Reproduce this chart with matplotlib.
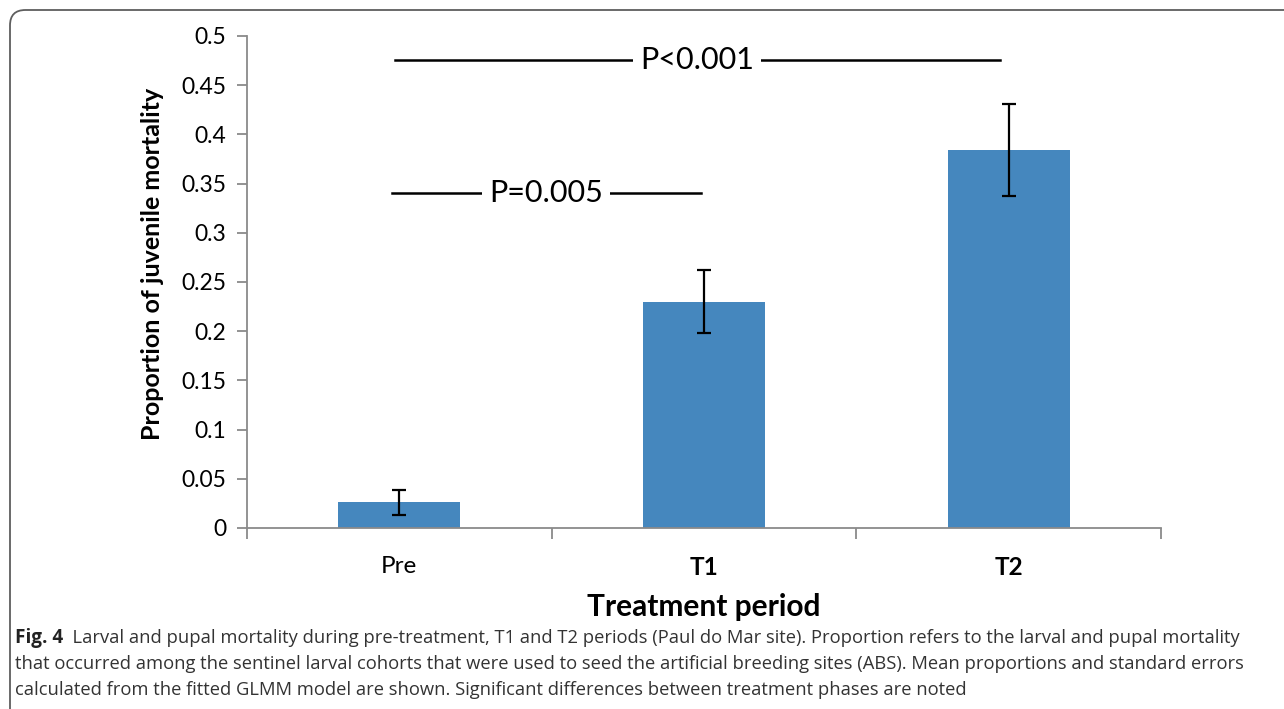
import matplotlib.pyplot as plt
from matplotlib.patches import FancyBboxPatch

# data
periods = ['Pre', 'T1', 'T2']
mortality = [0.026, 0.230, 0.384]
std_err = [0.013, 0.032, 0.047]
y_ticks = [0, 0.05, 0.1, 0.15, 0.2, 0.25, 0.3, 0.35, 0.4, 0.45, 0.5]
y_tick_labels = ['0', '0.05', '0.1', '0.15', '0.2', '0.25', '0.3', '0.35', '0.4', '0.45', '0.5']
comparisons = [  # (from, to, height, label)
    (-0.015, 1.97, 0.476, 'P<0.001'),
    (-0.025, 0.99, 0.340, 'P=0.005'),
]
caption_bold = 'Fig. 4'
caption_lines = [
    'Larval and pupal mortality during pre-treatment, T1 and T2 periods (Paul do Mar site). Proportion refers to the larval and pupal mortality',
    'that occurred among the sentinel larval cohorts that were used to seed the artificial breeding sites (ABS). Mean proportions and standard errors',
    'calculated from the fitted GLMM model are shown. Significant differences between treatment phases are noted',
]

plt.rcParams['font.family'] = ['Lato', 'DejaVu Sans']

fig = plt.figure(figsize=(12.84, 7.09), dpi=100)

# rounded frame round the figure, cut at right and bottom
frame = FancyBboxPatch((10 / 1284, -0.1), 1.2, 1.1 - 10 / 709,
                       boxstyle='round,pad=0,rounding_size=0.012',
                       transform=fig.transFigure, facecolor='none',
                       edgecolor='#5e5e5e', linewidth=1.3, mutation_aspect=1284 / 709)
fig.patches.append(frame)

ax = fig.add_axes([247 / 1284, 1 - 528 / 709, (1161 - 247) / 1284, (528 - 36) / 709])

x = range(len(periods))
ax.bar(x, mortality, width=0.4, color='#4587be', zorder=2)
ax.errorbar(x, mortality, yerr=std_err, fmt='none', ecolor='black',
            elinewidth=1.6, capsize=5, capthick=1.6, zorder=3)

ax.set_xlim(-0.5, 2.5)
ax.set_ylim(0, 0.5)
ax.set_yticks(y_ticks)
ax.set_yticklabels(y_tick_labels, fontsize=16.5)
ax.set_xticks([-0.5, 0.5, 1.5, 2.5])
ax.set_xticklabels([])
ax.set_xticks(list(x), minor=True)
ax.set_xticklabels(periods, minor=True, fontsize=17.5)
for lbl in ax.get_xticklabels(minor=True)[1:]:
    lbl.set_fontweight('bold')
ax.tick_params(axis='x', which='minor', length=0, pad=20)
ax.tick_params(axis='x', which='major', length=8, color='#8a8a8a', width=1.3)
ax.tick_params(axis='y', length=7, color='#8a8a8a', width=1.3, pad=8)

for side in ['top', 'right']:
    ax.spines[side].set_visible(False)
for side in ['left', 'bottom']:
    ax.spines[side].set_color('#8a8a8a')
    ax.spines[side].set_linewidth(1.3)

ax.set_xlabel('Treatment period', fontsize=21.5, fontweight='bold', labelpad=10)
ax.set_ylabel('Proportion of juvenile mortality', fontsize=18, fontweight='bold', labelpad=12)
ax.yaxis.label.set_y(0.537)

for x0, x1, h, label in comparisons:
    ax.plot([x0, x1], [h, h], color='black', linewidth=1.8, zorder=4, clip_on=False)
    ax.text((x0 + x1) / 2, h, label, fontsize=22, ha='center', va='center', zorder=5,
            bbox=dict(facecolor='white', edgecolor='none', pad=5))

# caption
cap_font = ['Open Sans', 'DejaVu Sans']
line_y = [1 - 638 / 709, 1 - 664 / 709, 1 - 690 / 709]
bold = fig.text(15 / 1284, line_y[0], caption_bold, fontsize=13.6, fontweight='bold',
                color='#222222', va='center', family=cap_font)
ax.annotate('  ' + caption_lines[0], xy=(1, 0.5), xycoords=bold, va='center',
            fontsize=13.25, color='#333333', family=cap_font)
for txt, yy in zip(caption_lines[1:], line_y[1:]):
    fig.text(15 / 1284, yy, txt, fontsize=13.25, color='#333333', va='center', family=cap_font)

plt.savefig('out.png', dpi=100)
